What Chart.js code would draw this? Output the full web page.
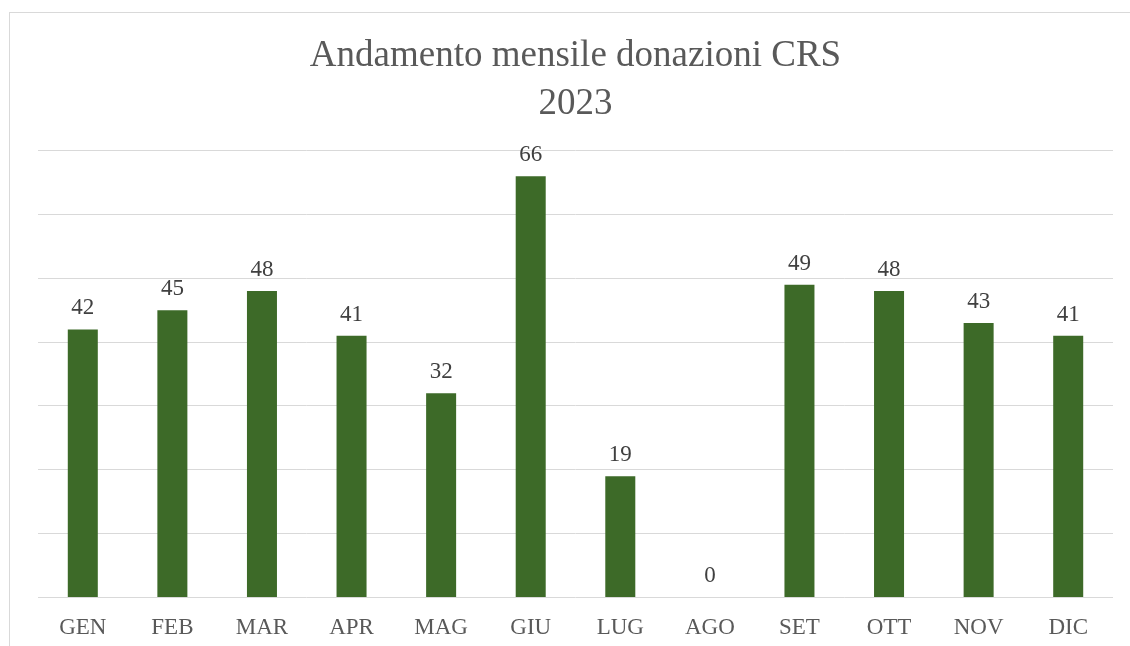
<!DOCTYPE html>
<html>
<head>
<meta charset="utf-8">
<script src="https://cdn.jsdelivr.net/npm/chart.js@4.4.0/dist/chart.umd.min.js"></script>
<style>
  body { margin: 0; background: #fff; overflow: hidden; }
  #frame { position: absolute; left: 9px; top: 12px; width: 1200px; height: 700px; border: 1px solid #d9d9d9; }
  #chart { position: absolute; left: 0; top: 0; }
</style>
</head>
<body>
<div id="frame"></div>
<canvas id="chart" width="1130" height="646"></canvas>
<script>
const months = ['GEN', 'FEB', 'MAR', 'APR', 'MAG', 'GIU', 'LUG', 'AGO', 'SET', 'OTT', 'NOV', 'DIC'];
const donations = [42, 45, 48, 41, 32, 66, 19, 0, 49, 48, 43, 41];
const titleLines = ['Andamento mensile donazioni CRS', '2023'];

// value labels above each bar
const valueLabels = {
    id: 'valueLabels',
    afterDatasetsDraw(chart) {
        const ctx = chart.ctx
        const meta = chart.getDatasetMeta(0)
        ctx.save()
        ctx.font = '23px "Liberation Serif"'
        ctx.fillStyle = '#404040'
        ctx.textAlign = 'center'
        ctx.textBaseline = 'alphabetic'
        meta.data.forEach(function (bar, i) {
            ctx.fillText(String(donations[i]), bar.x, bar.y - 15)
        })
        ctx.restore()
    }
}

const data = {
    labels: months,
    datasets: [{
        label: 'Donazioni',
        data: donations,
        backgroundColor: '#3d6a28',
        barPercentage: 0.335,
        categoryPercentage: 1
    }]
};

const config = {
    type: 'bar',
    data: data,
    options: {
        responsive: false,
        animation: false,
        layout: { padding: { left: 38, right: 17, top: 0, bottom: -5 } },
        plugins: {
            legend: { display: false },
            tooltip: { enabled: false },
            title: {
                display: true,
                text: titleLines,
                color: '#595959',
                font: { family: '"Liberation Serif"', size: 37, weight: 'normal', lineHeight: 1.28 },
                padding: { top: 33, bottom: 23 }
            }
        },
        scales: {
            x: {
                grid: { display: false },
                border: { display: false },
                ticks: {
                    color: '#595959',
                    padding: 9,
                    font: { family: '"Liberation Serif"', size: 23 }
                }
            },
            y: {
                min: 0,
                max: 70,
                ticks: { display: false, stepSize: 10 },
                border: { display: false },
                grid: { color: '#d9d9d9', lineWidth: 1, drawTicks: false }
            }
        }
    },
    plugins: [valueLabels]
};

const myChart = new Chart(document.getElementById('chart'), config);
</script>
</body>
</html>
